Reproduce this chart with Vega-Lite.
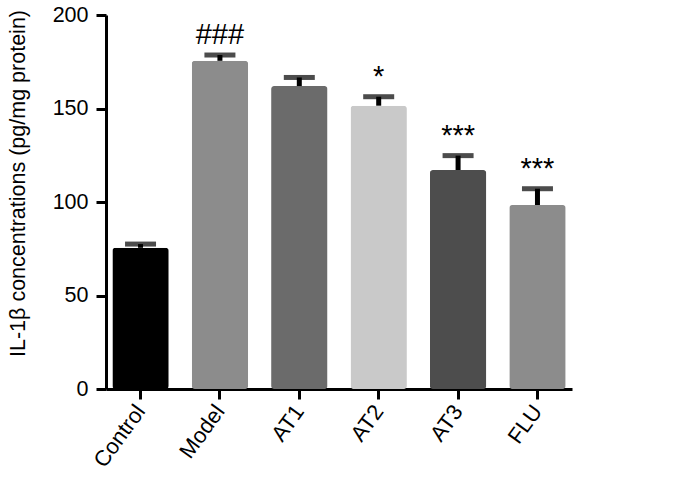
{
  "$schema": "https://vega.github.io/schema/vega-lite/v6.json",
  "width": 466,
  "height": 374,
  "autosize": "none",
  "padding": {"left": 106, "top": 15, "right": 108, "bottom": 91},
  "background": "white",
  "data": {
    "values": [
      {"group": "Control", "value": 75.5, "err": 77.5, "sig": ""},
      {"group": "Model", "value": 175.5, "err": 178.6, "sig": "###"},
      {"group": "AT1", "value": 162, "err": 166.6, "sig": ""},
      {"group": "AT2", "value": 151.5, "err": 156.3, "sig": "*"},
      {"group": "AT3", "value": 117.1, "err": 124.8, "sig": "***"},
      {"group": "FLU", "value": 98.4, "err": 107.1, "sig": "***"}
    ]
  },
  "encoding": {
    "x": {
      "field": "group",
      "type": "nominal",
      "sort": null,
      "scale": {"paddingInner": 0.29, "paddingOuter": 0.08},
      "axis": {
        "title": null,
        "labelAngle": -54,
        "labelAlign": "right",
        "labelBaseline": "middle",
        "labelFontSize": 22,
        "labelFont": "Liberation Sans",
        "labelColor": "black",
        "labelPadding": 8,
        "domainWidth": 3,
        "domainColor": "black",
        "tickWidth": 3,
        "tickSize": 10,
        "tickColor": "black",
        "grid": false
      }
    }
  },
  "layer": [
    {
      "mark": {"type": "bar", "cornerRadius": 3},
      "encoding": {
        "y": {
          "field": "value",
          "type": "quantitative",
          "scale": {"domain": [0, 200]},
          "axis": {
            "title": "IL-1β concentrations (pg/mg protein)",
            "titleFont": "Liberation Sans",
            "titleFontSize": 21.5,
            "titleFontWeight": "normal",
            "titleColor": "black",
            "titlePadding": 23,
            "titleY": 168,
            "values": [0, 50, 100, 150, 200],
            "labelFontSize": 21.5,
            "labelFont": "Liberation Sans",
            "labelColor": "black",
            "labelPadding": 8,
            "domainWidth": 3,
            "domainColor": "black",
            "tickWidth": 3,
            "tickSize": 10,
            "tickColor": "black",
            "grid": false
          }
        },
        "color": {
          "field": "group",
          "type": "nominal",
          "legend": null,
          "scale": {
            "domain": ["Control", "Model", "AT1", "AT2", "AT3", "FLU"],
            "range": ["#000000", "#8c8c8c", "#6b6b6b", "#c9c9c9", "#4d4d4d", "#8c8c8c"]
          }
        }
      }
    },
    {
      "mark": {"type": "rule", "strokeWidth": 5, "color": "black"},
      "encoding": {
        "y": {"field": "value", "type": "quantitative"},
        "y2": {"field": "err"}
      }
    },
    {
      "mark": {"type": "tick", "size": 31, "thickness": 5, "color": "black"},
      "encoding": {
        "y": {"field": "err", "type": "quantitative"}
      }
    },
    {
      "mark": {"type": "text", "baseline": "alphabetic", "dy": -11, "fontSize": 29, "font": "Liberation Sans", "color": "black"},
      "encoding": {
        "y": {"field": "err", "type": "quantitative"},
        "text": {"field": "sig"}
      }
    }
  ],
  "config": {"view": {"stroke": null}}
}
